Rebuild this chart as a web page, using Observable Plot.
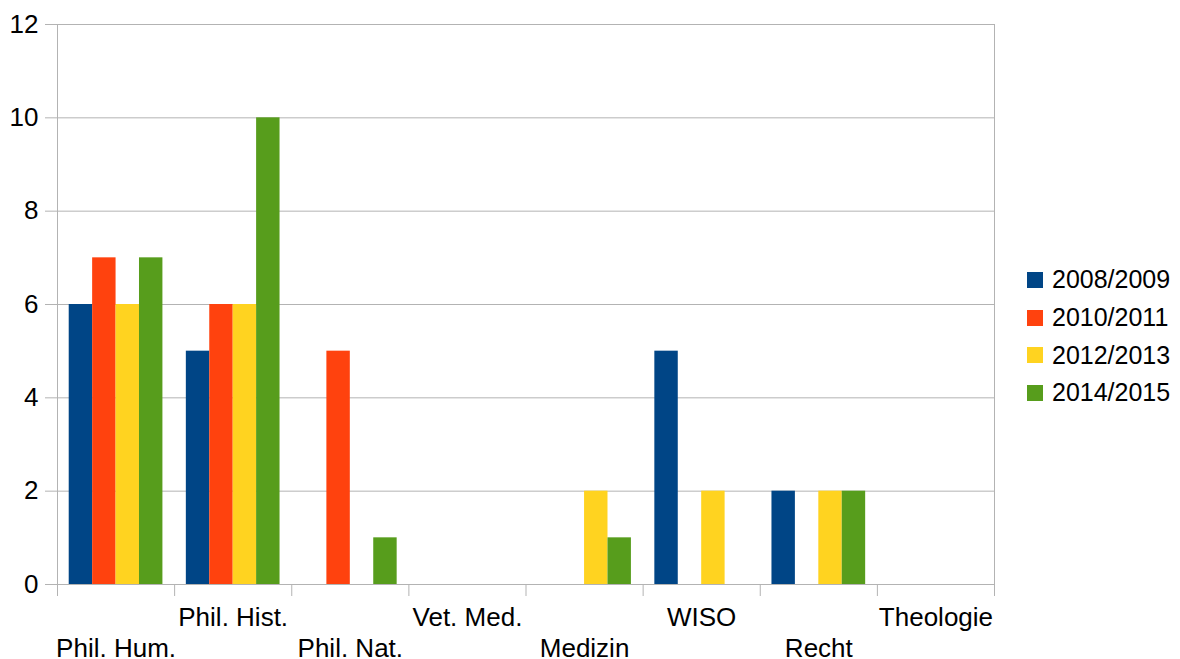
<!DOCTYPE html>
<html>
<head>
<meta charset="utf-8">
<script src="https://cdn.jsdelivr.net/npm/d3@7"></script>
<script src="https://cdn.jsdelivr.net/npm/@observablehq/plot@0.6"></script>
<style>
  html, body { margin: 0; padding: 0; background: #fff; }
  #wrap { position: relative; width: 1180px; height: 659px; font-family: "Liberation Sans", Arial, sans-serif; }
  #legend { position: absolute; left: 1027px; top: 261px; }
  .row { display: flex; align-items: center; height: 37.7px; font-size: 25px; color: #000; }
  .sw { width: 16px; height: 16px; margin-right: 9px; }
</style>
</head>
<body>
<div id="wrap"></div>
<script>
const categories = ["Phil. Hum.", "Phil. Hist.", "Phil. Nat.", "Vet. Med.", "Medizin", "WISO", "Recht", "Theologie"];
const seriesNames = ["2008/2009", "2010/2011", "2012/2013", "2014/2015"];
const s2008 = [6, 5, 0, 0, 0, 5, 2, 0];
const s2010 = [7, 6, 5, 0, 0, 0, 0, 0];
const s2012 = [6, 6, 0, 0, 2, 2, 2, 0];
const s2014 = [7, 10, 1, 0, 1, 0, 2, 0];
const colors = ["#004586", "#ff420e", "#ffd320", "#579d1c"];
const yTicks = [0, 2, 4, 6, 8, 10, 12];

const seriesValues = [s2008, s2010, s2012, s2014];
const rows = [];
categories.forEach((c, i) => {
  seriesValues.forEach((vals, j) => {
    rows.push({cat: c, ci: i, series: seriesNames[j], sj: j, value: vals[i]});
  });
});
const nS = seriesNames.length;
const groupPad = 0.1;
const barW = (1 - 2 * groupPad) / nS;
const bars = rows.filter(d => d.value > 0);

const grid = "#b3b3b3";
const boundaries = d3.range(categories.length + 1);
const lowerRow = categories.map((c, i) => i).filter(i => i % 2 === 0).map(i => i + 0.5);
const upperRow = categories.map((c, i) => i).filter(i => i % 2 === 1).map(i => i + 0.5);
const labelOf = v => categories[Math.floor(v)];

const chart = Plot.plot({
  width: 1180,
  height: 659,
  marginLeft: 57,
  marginRight: 186,
  marginTop: 24,
  marginBottom: 75,
  style: {fontFamily: "Liberation Sans, Arial, sans-serif", fontSize: "26px", background: "#fff", color: "#000"},
  x: {type: "linear", domain: [0, categories.length], axis: null, label: null},
  y: {domain: [0, 12], axis: null, label: null},
  color: {domain: seriesNames, range: colors},
  marks: [
    Plot.ruleY(yTicks, {stroke: grid, strokeWidth: 1}),
    Plot.ruleX([0, categories.length], {stroke: grid, strokeWidth: 1}),
    Plot.rectY(bars, {
      x1: d => d.ci + groupPad + d.sj * barW,
      x2: d => d.ci + groupPad + (d.sj + 1) * barW,
      y1: 0,
      y2: "value",
      fill: "series"
    }),
    Plot.axisY({ticks: yTicks, tickSize: 12, tickPadding: 7, stroke: grid, fontSize: 26, label: null, tickFormat: d => String(d)}),
    Plot.axisX({ticks: boundaries, tickSize: 12, stroke: grid, label: null, tickFormat: () => ""}),
    Plot.axisX({ticks: upperRow, tickSize: 0, tickPadding: 23, fontSize: 26, label: null, tickFormat: labelOf}),
    Plot.axisX({ticks: lowerRow, tickSize: 0, tickPadding: 54, fontSize: 26, label: null, tickFormat: labelOf})
  ]
});

const wrap = document.getElementById("wrap");
wrap.appendChild(chart);
const legend = document.createElement("div");
legend.id = "legend";
seriesNames.forEach((name, j) => {
  const row = document.createElement("div");
  row.className = "row";
  const sw = document.createElement("div");
  sw.className = "sw";
  sw.style.background = colors[j];
  const t = document.createElement("span");
  t.textContent = name;
  row.appendChild(sw);
  row.appendChild(t);
  legend.appendChild(row);
});
wrap.appendChild(legend);
</script>
</body>
</html>
